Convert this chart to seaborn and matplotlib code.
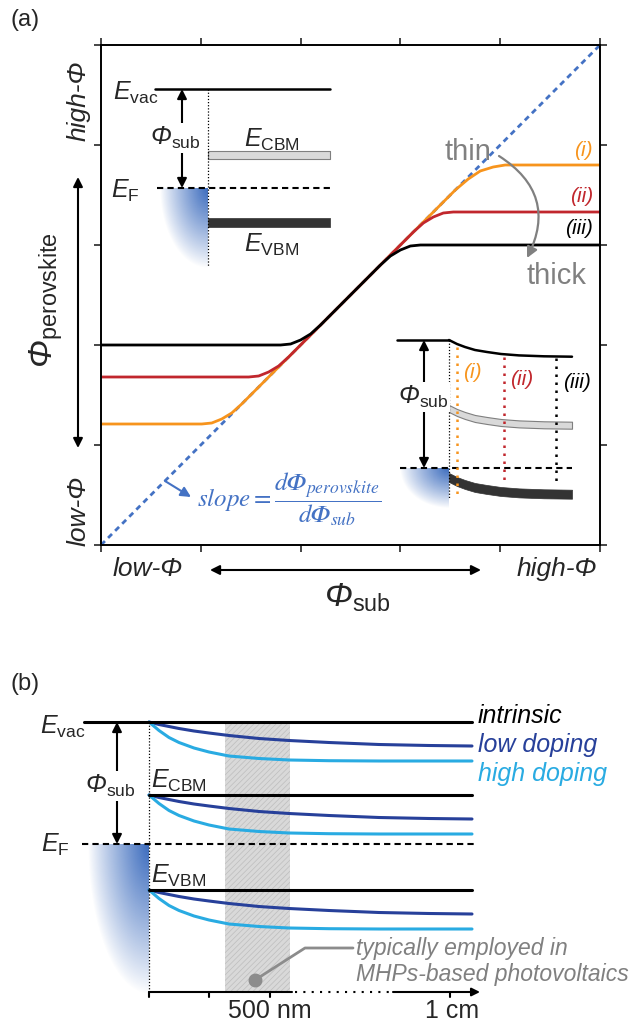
import numpy as np
import matplotlib
matplotlib.use("Agg")
import matplotlib.pyplot as plt
import seaborn as sns
from matplotlib.colors import to_rgb

W, H = 636, 1023

# ---- (a) work function of the perovskite vs substrate (arb. units, 0-5)
diag = [0, 5]
sub_i = [0, 1.01, 1.11, 1.21, 1.31, 1.41, 3.55, 3.68, 3.8, 3.93, 4.05, 5]
perov_i = [1.21, 1.21, 1.22, 1.26, 1.32, 1.41, 3.55, 3.66, 3.74, 3.78, 3.8, 3.8]
sub_ii = [0, 1.48, 1.58, 1.68, 1.78, 1.88, 3.13, 3.23, 3.33, 3.43, 3.53, 5]
perov_ii = [1.68, 1.68, 1.69, 1.73, 1.79, 1.88, 3.13, 3.22, 3.28, 3.32, 3.33, 3.33]
sub_iii = [0, 1.8, 1.9, 2.0, 2.1, 2.2, 2.8, 2.9, 3.0, 3.1, 3.2, 5]
perov_iii = [2.0, 2.0, 2.01, 2.05, 2.11, 2.2, 2.8, 2.89, 2.95, 2.99, 3.0, 3.0]
case_labels = ["(i)", "(ii)", "(iii)"]

# inset 1: flat bands (energy relative to E_vac, distance from interface)
flat_cbm = (-62, -70)
flat_ef = -99
flat_vbm = (-129, -138)

# inset 2: band bending near the interface
bend_x = [0, 8, 16, 26, 38, 52, 70, 95, 123]
bend_dy = [0, -4, -7, -10, -12, -14, -15.4, -16.3, -16.7]
bent_cbm0 = -68.5
bent_ef = -128
bent_vbm0 = -137.5
probe_x = [8, 55, 107]
probe_top = [-7, -17, -18]
probe_bottom = [-157, -142, -144]

# ---- (b) doping dependent band bending
b_levels = {"vac": 0, "cbm": -73, "vbm": -168}
b_ef = -122
dist = [0, 10, 20, 30, 45, 60, 80, 110, 140, 180, 230, 280, 323]
low_dy = [0, -2.5, -4.5, -6.5, -9, -11, -13.5, -16.5, -18.5, -20.5, -22.5, -23.5, -24]
high_dy = [0, -8.5, -15.5, -20.5, -26, -30, -34, -36.5, -38, -38.7, -39, -39, -39]
pv_range = [76, 141]
tick_pos = [0, 60, 121, 301]

ORANGE = "#F7941D"
RED = "#C1272D"
BLUE = "#4472C4"
DARK_BLUE = "#27409A"
LIGHT_BLUE = "#29ABE2"
GRAY = "#808080"

sns.set_style("white")
plt.rcParams["font.family"] = ["Liberation Sans", "DejaVu Sans"]
plt.rcParams["mathtext.fontset"] = "custom"
plt.rcParams["mathtext.rm"] = "Liberation Sans"
plt.rcParams["mathtext.it"] = "Liberation Sans:italic"
plt.rcParams["mathtext.sf"] = "Liberation Sans:italic"
plt.rcParams["hatch.linewidth"] = 0.5

fig = plt.figure(figsize=(W / 100, H / 100), dpi=100)


def band_axes(ox, oy, left, right, top, bottom):
    # axes in pixel box, 1 data unit = 1 pixel, origin at (ox, oy)
    a = fig.add_axes([left / W, 1 - bottom / H, (right - left) / W, (bottom - top) / H])
    a.set_xlim(left - ox, right - ox)
    a.set_ylim(oy - bottom, oy - top)
    a.axis("off")
    a.patch.set_alpha(0)
    return a


def metal_glow(a, ey, rx, ry):
    xl, yl = a.get_xlim(), a.get_ylim()
    gx, gy = np.meshgrid(np.linspace(-1, 0, 120), np.linspace(-1, 0, 200))
    r = np.sqrt(gx ** 2 + gy ** 2)
    img = np.zeros((200, 120, 4))
    img[..., :3] = to_rgb("#3C6CBE")
    img[..., 3] = np.clip(1 - r, 0, 1) ** 0.9
    a.imshow(img, extent=[-rx, 0, ey - ry, ey], origin="lower", aspect="auto",
             interpolation="bilinear", zorder=0)
    a.set_xlim(xl)
    a.set_ylim(yl)


def darrow(a, p0, p1, style="<|-|>", color="k", lw=1.5, ms=14):
    a.annotate("", xy=p1, xytext=p0,
               arrowprops=dict(arrowstyle=style, color=color, lw=lw, mutation_scale=ms,
                               shrinkA=0, shrinkB=0))


PHI_SUB = r"$\mathsf{\Phi}_{\mathrm{sub}}$"

# ================= panel (a) main axes =================
ax = fig.add_axes([101 / W, 1 - 545 / H, 499 / W, 500 / H])
ax.set_xlim(0, 5)
ax.set_ylim(0, 5)
ax.set_xticks(range(6))
ax.set_yticks(range(6))
ax.tick_params(direction="out", length=5, width=1.2, top=True, right=True,
               bottom=True, left=True, labelbottom=False, labelleft=False)
for s in ax.spines.values():
    s.set_linewidth(1.4)
    s.set_color("black")

ax.plot(diag, diag, color=BLUE, lw=2, ls=(0, (2, 1.6)), clip_on=False, zorder=1)
for sx, py, c in [(sub_i, perov_i, ORANGE), (sub_ii, perov_ii, RED), (sub_iii, perov_iii, "black")]:
    sns.lineplot(x=sx, y=py, ax=ax, color=c, lw=2, sort=False, estimator=None)
for lab, yy, c in zip(case_labels, [3.95, 3.48, 3.17], [ORANGE, RED, "black"]):
    ax.text(4.93, yy, lab, color=c, fontsize=15, style="italic", ha="right", va="center")

# ---- inset 1 (flat bands)
a1 = band_axes(208, 89, 100, 345, 60, 285)
metal_glow(a1, flat_ef, 48, 80)
a1.plot([-53, 122], [0, 0], color="black", lw=1.8)
a1.fill_between([0, 122], flat_cbm[1], flat_cbm[0], fc="#D9D9D9", ec="#7F7F7F", lw=0.8)
a1.fill_between([0, 122], flat_vbm[1], flat_vbm[0], fc="#333333", ec="#333333", lw=0.5)
a1.plot([-51, 122], [flat_ef, flat_ef], color="black", lw=1.5, ls=(0, (3, 2)))
a1.plot([0, 0], [0, -178], color="black", lw=0.9, ls=(0, (1, 1.5)))
darrow(a1, (-26, flat_ef), (-26, 0))
a1.text(-33, -49, PHI_SUB, fontsize=18, ha="center", va="center",
        bbox=dict(fc="white", ec="none", pad=1))
a1.text(-50, -4, r"$E_{\mathrm{vac}}$", fontsize=18, ha="right", va="center")
a1.text(-68, -102, r"$E_{\mathrm{F}}$", fontsize=18, ha="right", va="center")
a1.text(64, -51, r"$E_{\mathrm{CBM}}$", fontsize=18, ha="center", va="center")
a1.text(64, -156, r"$E_{\mathrm{VBM}}$", fontsize=18, ha="center", va="center")

# ---- inset 2 (bent bands)
a2 = band_axes(449, 340, 390, 600, 325, 515)
metal_glow(a2, bent_ef, 49, 40)
bx_arr = np.array(bend_x)
bdy = np.array(bend_dy)
a2.plot([-52, 0], [0, 0], color="black", lw=1.8)
a2.plot(bx_arr, bdy, color="black", lw=1.8)
a2.fill_between(bx_arr, bent_cbm0 + bdy - 3.5, bent_cbm0 + bdy + 3.5, fc="#D9D9D9", ec="#7F7F7F", lw=0.8)
a2.fill_between(bx_arr, bent_vbm0 + bdy - 4.5, bent_vbm0 + bdy + 4.5, fc="#333333", ec="#333333", lw=0.5)
a2.plot([-49, 123], [bent_ef, bent_ef], color="black", lw=1.5, ls=(0, (3, 2)))
a2.plot([0, 0], [0, -158], color="black", lw=0.9, ls=(0, (1, 1.5)))
for px_, t, b, c in zip(probe_x, probe_top, probe_bottom, [ORANGE, RED, "black"]):
    a2.plot([px_, px_], [t, b], color=c, lw=1.8, ls=(0, (1, 2.2)))
for lab, pos, c in zip(case_labels, [(23, -33), (73, -40), (128, -43)], [ORANGE, RED, "black"]):
    a2.text(pos[0], pos[1], lab, color=c, fontsize=15, style="italic", ha="center", va="center")
darrow(a2, (-25, bent_ef), (-25, 0))
a2.text(-26, -57, PHI_SUB, fontsize=18, ha="center", va="center",
        bbox=dict(fc="white", ec="none", pad=1))

# ================= panel (b) =================
bx = band_axes(149, 722, 0, 636, 690, 1023)
metal_glow(bx, b_ef, 61, 150)
bx.fill_between(pv_range, -270, 0, fc="#D9D9D9", ec="#BDBDBD", hatch="//////", lw=0, zorder=0.5)
d = np.array(dist)
for name, lev in b_levels.items():
    x0 = -65 if name == "vac" else 0
    bx.plot([x0, 323], [lev, lev], color="black", lw=2.2, zorder=3)
    sns.lineplot(x=d, y=lev + np.array(low_dy), ax=bx, color=DARK_BLUE, lw=2.2, estimator=None, zorder=2)
    sns.lineplot(x=d, y=lev + np.array(high_dy), ax=bx, color=LIGHT_BLUE, lw=2.2, estimator=None, zorder=2)
bx.plot([-67, 326], [b_ef, b_ef], color="black", lw=1.5, ls=(0, (3, 2)))
bx.plot([0, 0], [0, -270], color="black", lw=0.9, ls=(0, (1, 1.5)))
darrow(bx, (-32, b_ef), (-32, 0))
bx.text(-39, -64, PHI_SUB, fontsize=18, ha="center", va="center",
        bbox=dict(fc="white", ec="none", pad=1))
bx.text(-64, -5, r"$E_{\mathrm{vac}}$", fontsize=18, ha="right", va="center")
bx.text(-79, -123, r"$E_{\mathrm{F}}$", fontsize=18, ha="right", va="center")
bx.text(2, -72, r"$E_{\mathrm{CBM}}$", fontsize=18, ha="left", va="bottom")
bx.text(2, -167, r"$E_{\mathrm{VBM}}$", fontsize=18, ha="left", va="bottom")
for lab, yy, c in [("intrinsic", 6, "black"), ("low doping", -23, DARK_BLUE), ("high doping", -52, LIGHT_BLUE)]:
    bx.text(329, yy, lab, color=c, fontsize=18, style="italic", ha="left", va="center")

# length axis
bx.plot([0, 143], [-270, -270], color="black", lw=1.5)
bx.plot([146, 246], [-270, -270], color="black", lw=1.5, ls=(0, (1, 3)))
darrow(bx, (244, -270), (331, -270), style="-|>", lw=1.5, ms=12)
for t in tick_pos:
    bx.plot([t, t], [-270, -275], color="black", lw=1.5)
bx.text(121, -289, "500 nm", fontsize=18, ha="center", va="center")
bx.text(303, -289, "1 cm", fontsize=18, ha="center", va="center")

# annotation of the photovoltaic thickness range
bx.plot([106, 156, 204], [-258, -226, -226], color="#8C8C8C", lw=2)
bx.plot([106], [-258], "o", color="#8C8C8C", ms=9)
bx.text(207, -226, "typically employed in", color=GRAY, fontsize=16.5, style="italic", va="center")
bx.text(207, -253, "MHPs-based photovoltaics", color=GRAY, fontsize=16.5, style="italic", va="center")

# ================= overlay for labels and arrows =================
ov = fig.add_axes([0, 0, 1, 1])
ov.set_xlim(0, W)
ov.set_ylim(H, 0)
ov.axis("off")
ov.patch.set_alpha(0)

ov.text(10, 20, "(a)", fontsize=17, ha="left", va="center")
ov.text(10, 684, "(b)", fontsize=17, ha="left", va="center")
ov.text(79, 101, "high-Φ", fontsize=19, style="italic", rotation=90, ha="center", va="center")
ov.text(79, 511, "low-Φ", fontsize=19, style="italic", rotation=90, ha="center", va="center")
ov.text(46, 300, r"$\mathsf{\Phi}_{\mathrm{perovskite}}$", fontsize=24, rotation=90, ha="center", va="center")
darrow(ov, (78, 448), (78, 177))
ov.text(148, 569, "low-Φ", fontsize=19, style="italic", ha="center", va="center")
ov.text(557, 569, "high-Φ", fontsize=19, style="italic", ha="center", va="center")
darrow(ov, (210, 570), (481, 570))
ov.text(357, 598, PHI_SUB, fontsize=24, ha="center", va="center")

ov.text(468, 152, "thin", color=GRAY, fontsize=21, ha="center", va="center")
ov.text(556, 276, "thick", color=GRAY, fontsize=21, ha="center", va="center")
ov.annotate("", xy=(527, 258), xytext=(499, 156),
            arrowprops=dict(arrowstyle="-|>", color=GRAY, lw=1.6, mutation_scale=16,
                            shrinkA=0, shrinkB=0, connectionstyle="arc3,rad=-0.45"))

darrow(ov, (165, 481), (191, 497), style="-|>", color=BLUE, lw=1.5, ms=15)
ov.text(197, 499, r"$slope = \dfrac{d𝛷_{perovskite}}{d𝛷_{sub}}$", color=BLUE, fontsize=18,
        math_fontfamily="stix", ha="left", va="center")

fig.savefig("out.png", dpi=100)
